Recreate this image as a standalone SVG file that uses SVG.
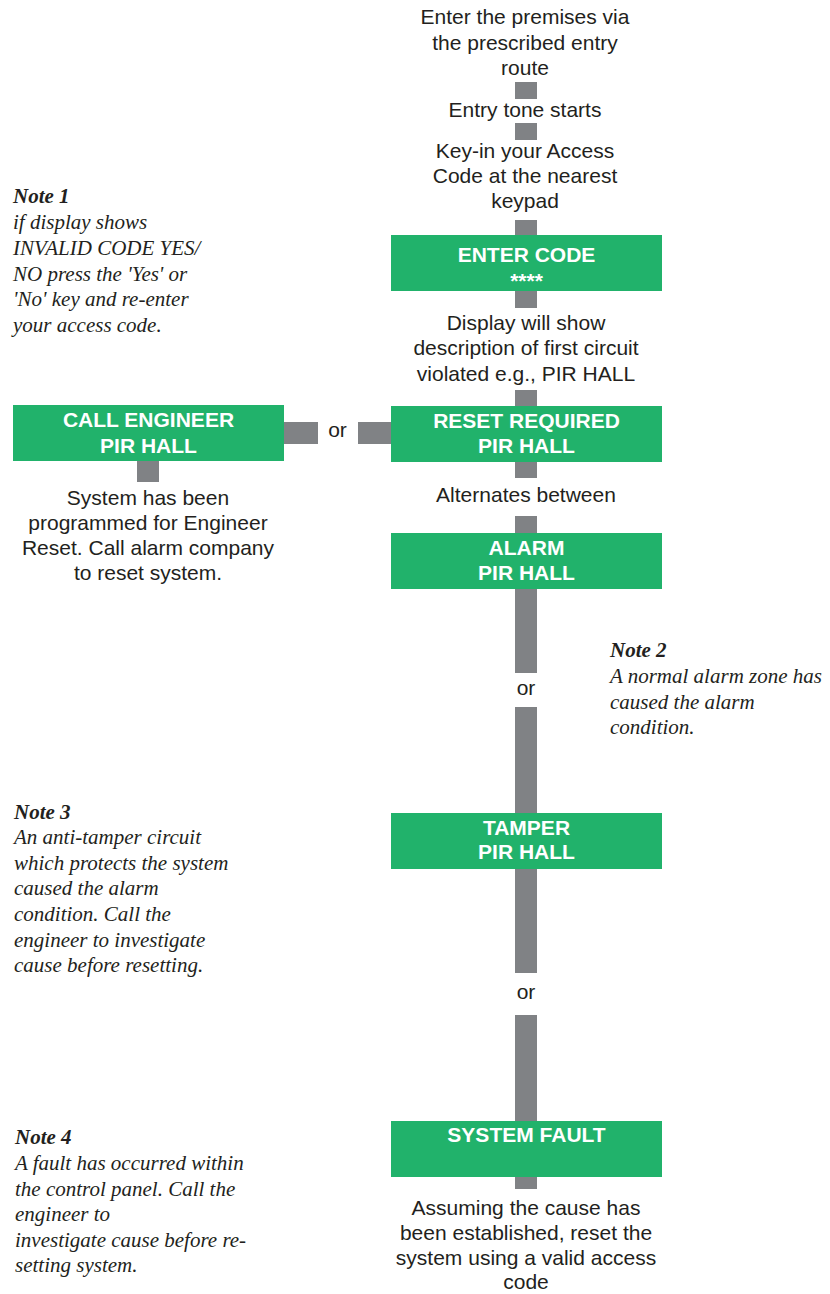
<svg xmlns="http://www.w3.org/2000/svg" width="830" height="1294" viewBox="0 0 830 1294">
<style>
.bg{fill:#ffffff}
.box{fill:#21B26B}
.bar{fill:#808285}
.lbl{font-family:"Liberation Sans",Arial,sans-serif;font-size:21px;font-weight:bold;fill:#ffffff;text-anchor:middle}
.txt{font-family:"Liberation Sans",Arial,sans-serif;font-size:21px;fill:#231F20;text-anchor:middle}
.note{font-family:"Liberation Serif","Times New Roman",serif;font-size:21px;font-style:italic;fill:#231F20}
.nh{font-weight:bold}
</style>
<rect class="bg" x="0" y="0" width="830" height="1294"/>
<g id="connectors">
<rect class="bar" x="515" y="82" width="22" height="17"/>
<rect class="bar" x="515" y="123" width="22" height="17"/>
<rect class="bar" x="515" y="220" width="22" height="16"/>
<rect class="bar" x="515" y="290" width="22" height="18"/>
<rect class="bar" x="515" y="390" width="22" height="17"/>
<rect class="bar" x="515" y="461" width="22" height="17"/>
<rect class="bar" x="515" y="516" width="22" height="18"/>
<rect class="bar" x="515" y="588" width="22" height="85"/>
<rect class="bar" x="515" y="707" width="22" height="107"/>
<rect class="bar" x="515" y="868" width="22" height="105"/>
<rect class="bar" x="515" y="1015" width="22" height="107"/>
<rect class="bar" x="515" y="1176" width="22" height="13"/>
<rect class="bar" x="284" y="422" width="34" height="22"/>
<rect class="bar" x="358" y="422" width="33" height="22"/>
<rect class="bar" x="137" y="460" width="22" height="22"/>
<text class="txt" x="337.5" y="437">or</text>
<text class="txt" x="526" y="695">or</text>
<text class="txt" x="526" y="999">or</text>
</g>
<g id="step-enter">
<text class="txt" x="525" y="24">Enter the premises via</text>
<text class="txt" x="525" y="50">the prescribed entry</text>
<text class="txt" x="525" y="75">route</text>
</g>
<g id="step-tone">
<text class="txt" x="525" y="117">Entry tone starts</text>
</g>
<g id="step-keyin">
<text class="txt" x="525" y="158">Key-in your Access</text>
<text class="txt" x="525" y="183">Code at the nearest</text>
<text class="txt" x="525" y="208">keypad</text>
</g>
<g id="node-enter-code">
<rect class="box" x="391" y="235" width="271" height="56"/>
<text class="lbl" x="526.5" y="262">ENTER CODE</text>
<text class="lbl" x="526.5" y="288">****</text>
</g>
<g id="step-display">
<text class="txt" x="526" y="330">Display will show</text>
<text class="txt" x="526" y="355">description of first circuit</text>
<text class="txt" x="526" y="381">violated e.g., PIR HALL</text>
</g>
<g id="node-reset-required">
<rect class="box" x="391" y="406" width="271" height="56"/>
<text class="lbl" x="526.5" y="428">RESET REQUIRED</text>
<text class="lbl" x="526.5" y="453">PIR HALL</text>
</g>
<g id="node-call-engineer">
<rect class="box" x="13" y="405" width="271" height="56"/>
<text class="lbl" x="148.5" y="427">CALL ENGINEER</text>
<text class="lbl" x="148.5" y="453">PIR HALL</text>
</g>
<g id="step-engineer-reset">
<text class="txt" x="148" y="505">System has been</text>
<text class="txt" x="148" y="530">programmed for Engineer</text>
<text class="txt" x="148" y="555">Reset. Call alarm company</text>
<text class="txt" x="148" y="580">to reset system.</text>
</g>
<g id="step-alternates">
<text class="txt" x="526" y="502">Alternates between</text>
</g>
<g id="node-alarm">
<rect class="box" x="391" y="533" width="271" height="56"/>
<text class="lbl" x="526.5" y="555">ALARM</text>
<text class="lbl" x="526.5" y="580">PIR HALL</text>
</g>
<g id="node-tamper">
<rect class="box" x="391" y="813" width="271" height="56"/>
<text class="lbl" x="526.5" y="835">TAMPER</text>
<text class="lbl" x="526.5" y="859">PIR HALL</text>
</g>
<g id="node-system-fault">
<rect class="box" x="391" y="1121" width="271" height="56"/>
<text class="lbl" x="526.5" y="1142">SYSTEM FAULT</text>
</g>
<g id="step-final">
<text class="txt" x="526" y="1215">Assuming the cause has</text>
<text class="txt" x="526" y="1240">been established, reset the</text>
<text class="txt" x="526" y="1265">system using a valid access</text>
<text class="txt" x="526" y="1289">code</text>
</g>
<g id="note-1">
<text class="note nh" x="13" y="203">Note 1</text>
<text class="note" x="13" y="229">if display shows</text>
<text class="note" x="13" y="255">INVALID CODE YES/</text>
<text class="note" x="13" y="281">NO press the 'Yes' or</text>
<text class="note" x="13" y="306">'No' key and re-enter</text>
<text class="note" x="13" y="332">your access code.</text>
</g>
<g id="note-2">
<text class="note nh" x="610" y="657">Note 2</text>
<text class="note" x="610" y="683">A normal alarm zone has</text>
<text class="note" x="610" y="709">caused the alarm</text>
<text class="note" x="610" y="734">condition.</text>
</g>
<g id="note-3">
<text class="note nh" x="14" y="819">Note 3</text>
<text class="note" x="14" y="844">An anti-tamper circuit</text>
<text class="note" x="14" y="870">which protects the system</text>
<text class="note" x="14" y="895">caused the alarm</text>
<text class="note" x="14" y="921">condition. Call the</text>
<text class="note" x="14" y="947">engineer to investigate</text>
<text class="note" x="14" y="972">cause before resetting.</text>
</g>
<g id="note-4">
<text class="note nh" x="15" y="1144">Note 4</text>
<text class="note" x="15" y="1170">A fault has occurred within</text>
<text class="note" x="15" y="1196">the control panel. Call the</text>
<text class="note" x="15" y="1221">engineer to</text>
<text class="note" x="15" y="1247">investigate cause before re-</text>
<text class="note" x="15" y="1272">setting system.</text>
</g>
</svg>
